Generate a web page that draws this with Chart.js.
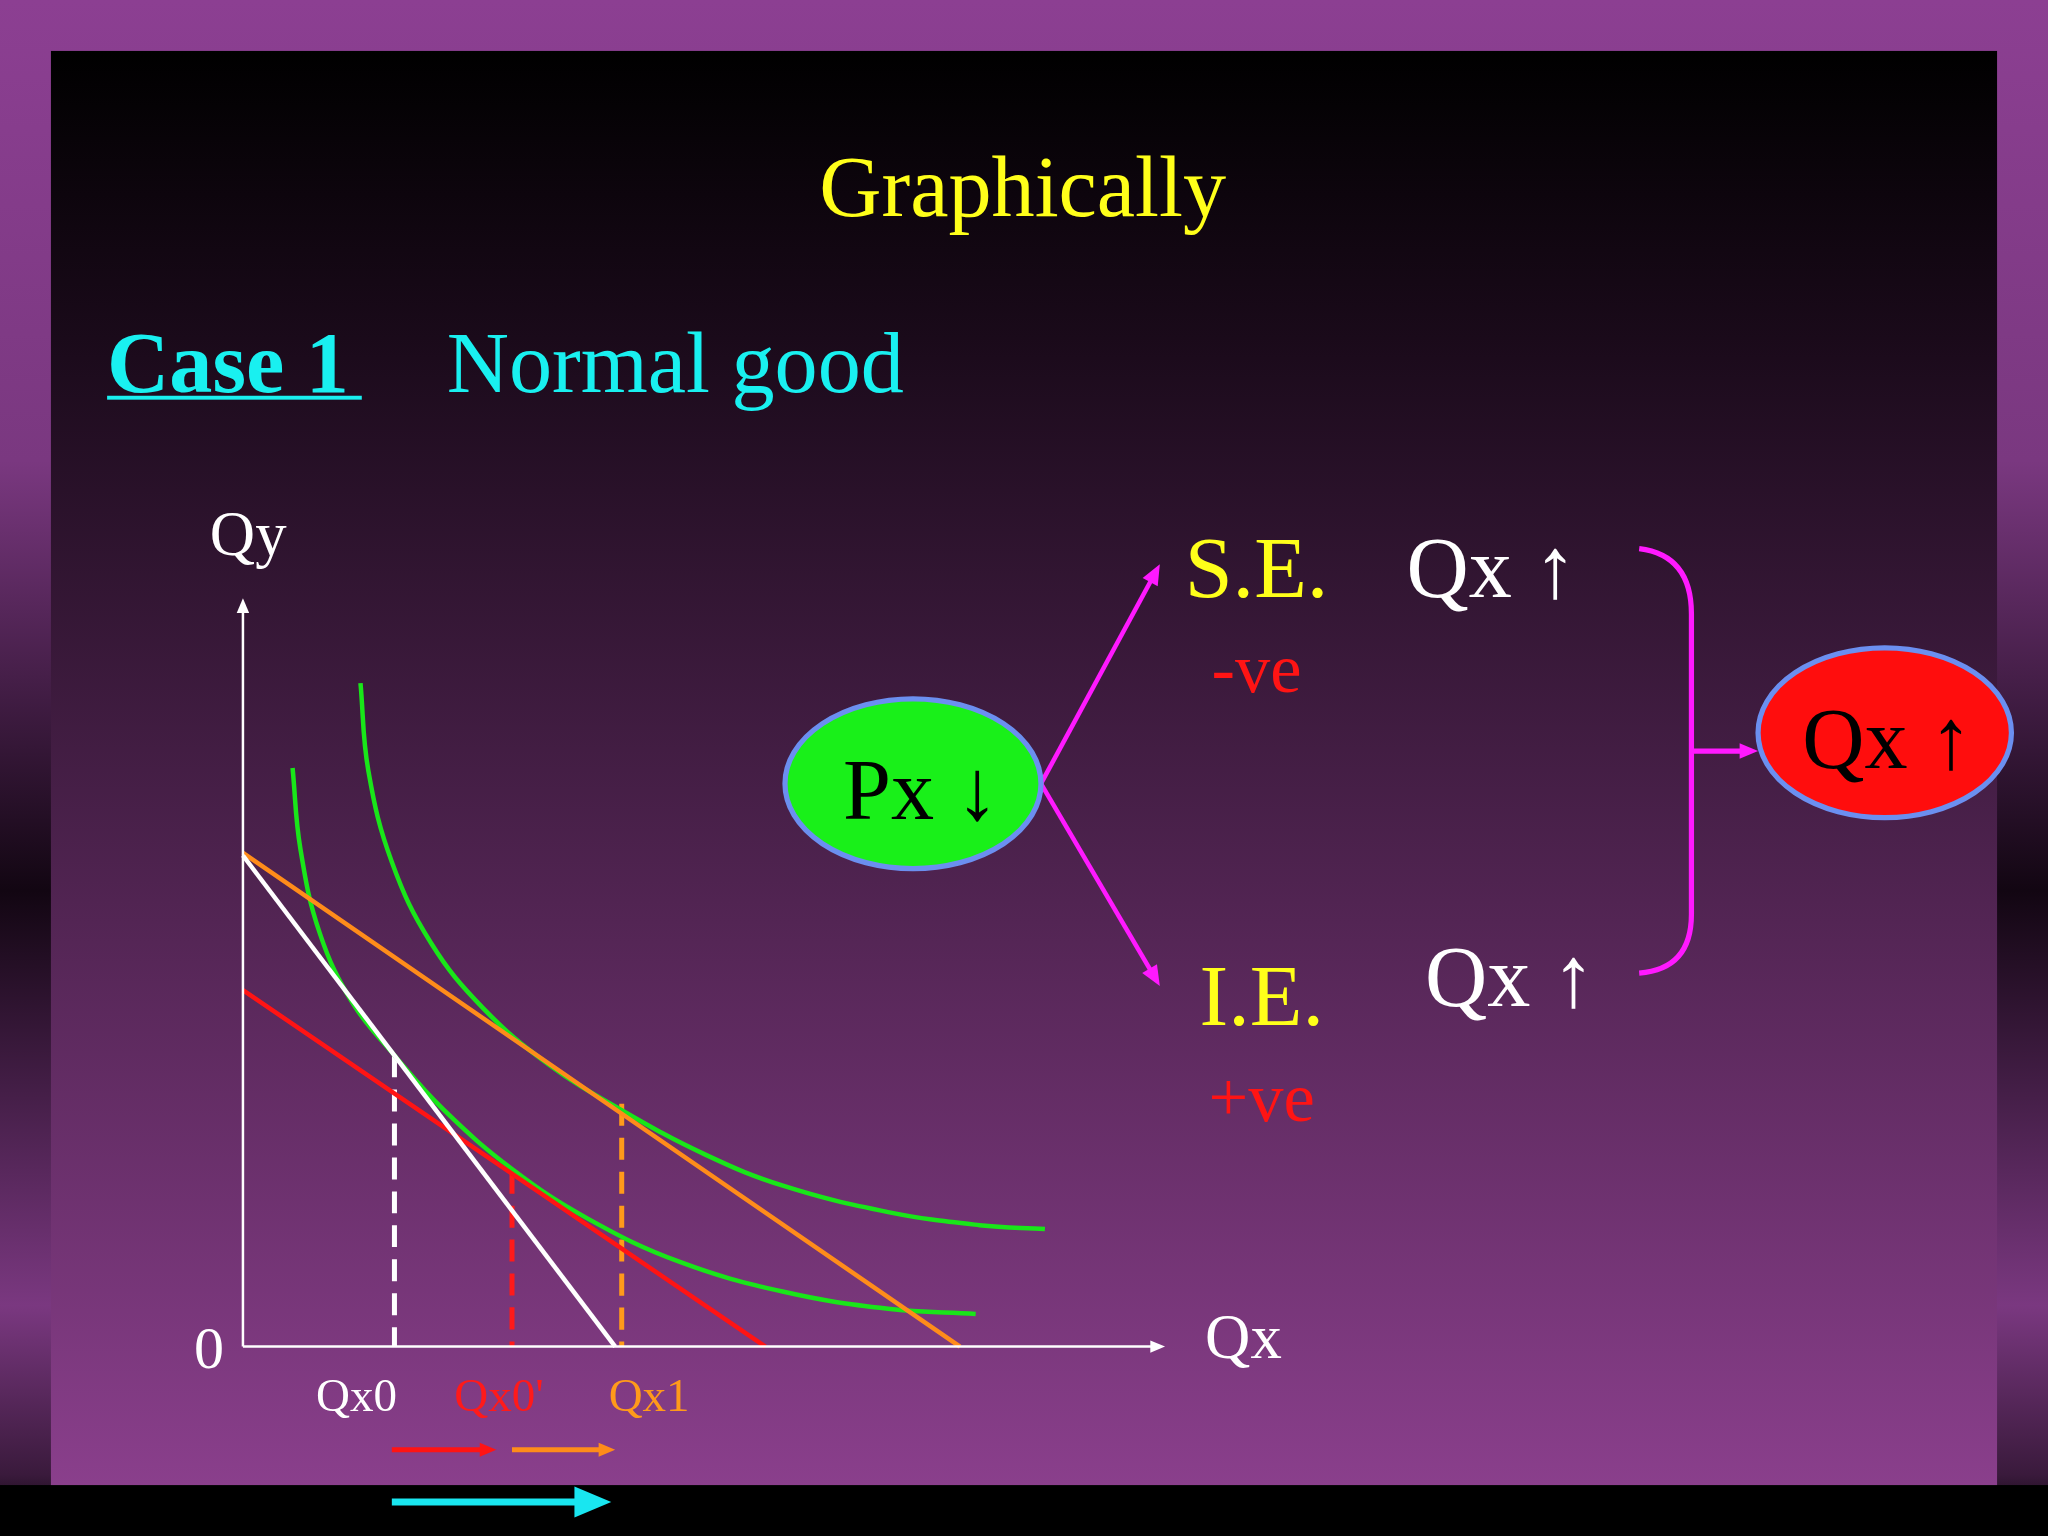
<!DOCTYPE html>
<html>
<head>
<meta charset="utf-8">
<script src="https://cdn.jsdelivr.net/npm/chart.js@4.4.1/dist/chart.umd.min.js"></script>
<style>
  html, body { margin: 0; padding: 0; background: #000; }
  #wrap { width: 2048px; height: 1536px; position: relative; }
</style>
</head>
<body>
<div id="wrap"><canvas id="slide" width="2048" height="1536"></canvas></div>
<script>
// slide units: 1568 x 1176 (y grows downward)
const S = 2048 / 1568;

// budget lines, [start, end]
const whiteLine = [{x: 186, y: 655}, {x: 471, y: 1031}];
const orangeLine = [{x: 186, y: 653}, {x: 735, y: 1031}];
const redLine = [{x: 186, y: 758}, {x: 586, y: 1031}];

// indifference curves
const icLow = [
    {x: 224, y: 588}, {x: 230, y: 650}, {x: 245, y: 715}, {x: 270, y: 768},
    {x: 302, y: 808}, {x: 340, y: 850}, {x: 392, y: 895}, {x: 450, y: 933},
    {x: 520, y: 966}, {x: 600, y: 989}, {x: 680, y: 1002}, {x: 747, y: 1006}
];
const icHigh = [
    {x: 276, y: 523}, {x: 282, y: 590}, {x: 300, y: 660}, {x: 330, y: 722},
    {x: 370, y: 772}, {x: 420, y: 815}, {x: 476, y: 850}, {x: 540, y: 884},
    {x: 600, y: 908}, {x: 680, y: 928}, {x: 750, y: 938}, {x: 800, y: 941}
];

// dashed drop lines: x position, top
const dropX = [302, 392, 476];
const dropTop = [808, 897, 845];
const dropColors = ['#ffffff', '#ff1a1a', '#ff9a1a'];
const tickLabels = ['Qx0', "Qx0'", 'Qx1'];
const tickLabelX = [273, 382, 497];

const axisOrigin = {x: 186, y: 1031};

function seg(data, color, width, dash) {
    return {
        data: data, showLine: true, pointRadius: 0, borderColor: color,
        borderWidth: width, borderDash: dash || [], tension: 0.4, fill: false
    };
}

const datasets = [
    seg(whiteLine, '#ffffff', 4.5),
    seg(redLine, '#ff1414', 4.5),
    seg(orangeLine, '#ff8c1a', 4.5),
    seg(icLow, '#19e619', 4.5),
    seg(icHigh, '#19e619', 4.5)
];
dropX.forEach((x, i) => {
    datasets.push(seg([{x: x, y: dropTop[i]}, {x: x, y: axisOrigin.y}], dropColors[i], 5, [22, 12]));
});

const backdrop = {
    id: 'backdrop',
    beforeDraw(chart) {
        const c = chart.ctx, W = chart.width, H = chart.height;
        let g = c.createLinearGradient(0, 0, 0, H);
        g.addColorStop(0, '#8c3f92'); g.addColorStop(0.3, '#7a3880'); g.addColorStop(0.58, '#120612');
        g.addColorStop(0.85, '#7a3880'); g.addColorStop(0.96, '#3a1a3c'); g.addColorStop(1, '#000000');
        c.fillStyle = g; c.fillRect(0, 0, W, H);
        c.fillStyle = '#000'; c.fillRect(0, 1137 * S, W, H - 1137 * S);
        g = c.createLinearGradient(0, 39 * S, 0, 1137 * S);
        g.addColorStop(0, '#000000'); g.addColorStop(0.2, '#1a0a1a'); g.addColorStop(1, '#8a3f8c');
        c.fillStyle = g; c.fillRect(39 * S, 39 * S, 1490 * S, 1098 * S);
    }
};

function arrowLine(c, x1, y1, x2, y2, color, w, head) {
    c.save(); c.strokeStyle = color; c.fillStyle = color; c.lineWidth = w;
    const a = Math.atan2(y2 - y1, x2 - x1);
    c.beginPath(); c.moveTo(x1, y1);
    c.lineTo(x2 - Math.cos(a) * head * 0.8, y2 - Math.sin(a) * head * 0.8); c.stroke();
    c.beginPath(); c.moveTo(x2, y2);
    c.lineTo(x2 - head * Math.cos(a - 0.4), y2 - head * Math.sin(a - 0.4));
    c.lineTo(x2 - head * Math.cos(a + 0.4), y2 - head * Math.sin(a + 0.4));
    c.closePath(); c.fill(); c.restore();
}

const overlay = {
    id: 'overlay',
    afterDatasetsDraw(chart) {
        const c = chart.ctx, sx = chart.scales.x, sy = chart.scales.y;
        const X = v => sx.getPixelForValue(v), Y = v => sy.getPixelForValue(v);
        const text = (t, x, y, size, color, opts) => {
            opts = opts || {};
            c.font = (opts.bold ? 'bold ' : '') + size * S + 'px "Liberation Serif", "DejaVu Serif", serif';
            c.fillStyle = color; c.textAlign = opts.align || 'center'; c.textBaseline = 'alphabetic';
            c.fillText(t, X(x), Y(y));
        };
        // axes
        arrowLine(c, X(186), Y(1031), X(186), Y(458), '#ffffff', 2.5, 16);
        arrowLine(c, X(186), Y(1031), X(892), Y(1031), '#ffffff', 2.5, 16);
        text('Qy', 190, 425, 48, '#ffffff');
        text('0', 160, 1047, 46, '#ffffff');
        text('Qx', 952, 1040, 48, '#ffffff');
        tickLabels.forEach((t, i) => text(t, tickLabelX[i], 1080, 36, dropColors[i]));
        // shift arrows
        arrowLine(c, X(300), Y(1110), X(380), Y(1110), '#ff1414', 5, 18);
        arrowLine(c, X(392), Y(1110), X(471), Y(1110), '#ff8c1a', 5, 18);
        arrowLine(c, X(300), Y(1150), X(468), Y(1150), '#19e6f0', 7, 40);
        // titles
        text('Graphically', 783, 165, 66, '#ffff1a');
        text('Case 1', 82, 300, 66, '#19f0f0', {bold: true, align: 'left'});
        c.fillStyle = '#19f0f0'; c.fillRect(X(82), Y(303), X(277) - X(82), 3 * S);
        text('Normal good', 342, 300, 66, '#19f0f0', {align: 'left'});
        // ellipses
        const ell = (cx, cy, rx, ry, fill) => {
            c.save(); c.beginPath();
            c.ellipse(X(cx), Y(cy), rx * S, ry * S, 0, 0, Math.PI * 2);
            c.fillStyle = fill; c.fill(); c.lineWidth = 4 * S; c.strokeStyle = '#6b8ff0'; c.stroke(); c.restore();
        };
        // magenta arrows
        arrowLine(c, X(797), Y(600), X(888), Y(432), '#ff19ff', 3.5 * S, 22);
        arrowLine(c, X(797), Y(600), X(888), Y(755), '#ff19ff', 3.5 * S, 22);
        ell(699, 600, 98, 65, '#19f019');
        ell(1443, 561, 97, 65, '#ff0d0d');
        text('Px \u2193', 705, 627, 66, '#000000');
        text('Qx \u2191', 1445, 588, 66, '#000000');
        // effects
        text('S.E.', 962, 457, 66, '#ffff1a');
        text('-ve', 962, 530, 54, '#ff1414');
        text('Qx \u2191', 1142, 457, 66, '#ffffff');
        text('I.E.', 966, 785, 66, '#ffff1a');
        text('+ve', 966, 858, 54, '#ff1414');
        text('Qx \u2191', 1156, 770, 66, '#ffffff');
        // bracket
        c.save(); c.strokeStyle = '#ff19ff'; c.lineWidth = 4 * S; c.beginPath();
        c.moveTo(X(1255), Y(420));
        c.quadraticCurveTo(X(1295), Y(425), X(1295), Y(470));
        c.lineTo(X(1295), Y(700));
        c.quadraticCurveTo(X(1295), Y(742), X(1255), Y(745));
        c.stroke(); c.restore();
        arrowLine(c, X(1295), Y(575), X(1346), Y(575), '#ff19ff', 4 * S, 20);
    }
};

new Chart(document.getElementById('slide'), {
    type: 'scatter',
    data: {datasets: datasets},
    plugins: [backdrop, overlay],
    options: {
        responsive: false, animation: false, devicePixelRatio: 1,
        layout: {padding: 0},
        plugins: {legend: {display: false}, tooltip: {enabled: false}},
        scales: {
            x: {type: 'linear', min: 0, max: 1568, display: false},
            y: {type: 'linear', min: 0, max: 1176, reverse: true, display: false}
        }
    }
});
</script>
</body>
</html>
